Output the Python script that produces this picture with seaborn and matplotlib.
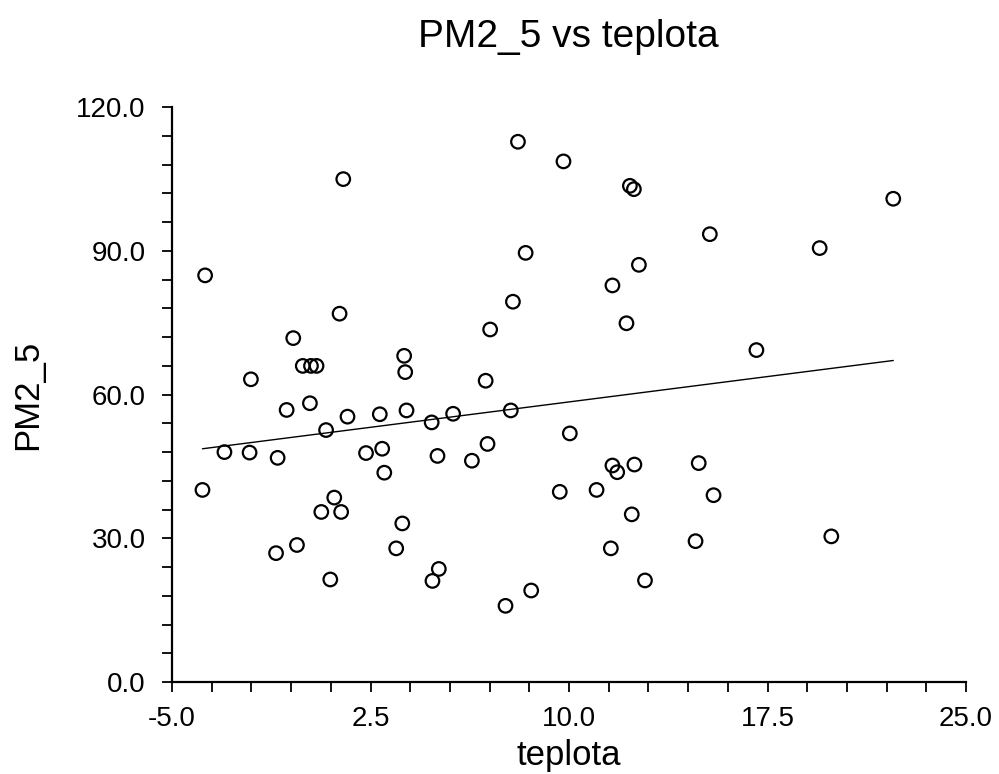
import matplotlib
matplotlib.use("Agg")
import matplotlib.pyplot as plt
from matplotlib.ticker import FixedLocator, FormatStrFormatter
import numpy as np
import seaborn as sns
import pandas as pd

teplota = [8.07, 9.79, 1.47, 12.30, 12.45, 22.25, 15.32, 19.47, 8.36, 12.64,
           -3.75, 11.64, 7.88, 1.33, 12.17, 7.02, -0.42, 17.08, 3.77, -0.06,
           0.25, 0.46, 3.81, -2.02, 6.85, -0.67, 0.21, 1.63, 2.85, 3.86,
           4.81, 5.62, 7.80, 0.82, 10.03, -3.02, -2.07, -1.01, 2.33, 2.94,
           3.02, 5.03, 6.33, 6.92, -3.85, 9.65, 1.13, 0.64, 1.39, 3.70,
           -1.07, -0.28, 3.47, 0.98, 5.08, 4.84, 7.60, 8.57, 11.64, 11.82,
           12.47, 14.90, 11.04, 15.46, 12.37, 11.58, 14.78, 19.91, 12.87]
pm25 = [112.8, 108.7, 105.0, 103.6, 102.9, 100.9, 93.5, 90.6, 89.6, 87.1,
        84.9, 82.8, 79.4, 76.9, 74.9, 73.6, 71.8, 69.3, 68.1, 66.0,
        66.0, 66.0, 64.7, 63.2, 62.9, 56.8, 58.2, 55.4, 55.9, 56.7,
        54.2, 56.0, 56.7, 52.6, 51.9, 48.0, 47.9, 46.8, 47.8, 48.7,
        43.7, 47.2, 46.2, 49.7, 40.1, 39.7, 38.5, 35.5, 35.5, 33.1,
        26.9, 28.6, 27.9, 21.4, 23.6, 21.1, 15.9, 19.1, 45.2, 43.8,
        45.4, 45.7, 40.1, 39.0, 35.0, 27.9, 29.4, 30.4, 21.2]

x_major = [-5.0, 2.5, 10.0, 17.5, 25.0]
y_major = [0.0, 30.0, 60.0, 90.0, 120.0]

title = "PM2_5 vs teplota"
xlabel = "teplota"
ylabel = "PM2_5"

df = pd.DataFrame({"teplota": teplota, "PM2_5": pm25})

sns.set_style("ticks")
plt.rcParams["font.family"] = ["Liberation Sans", "DejaVu Sans"]
plt.rcParams["text.color"] = "black"
plt.rcParams["axes.labelcolor"] = "black"
plt.rcParams["xtick.color"] = "black"
plt.rcParams["ytick.color"] = "black"

fig = plt.figure(figsize=(9.99, 7.74), dpi=100)
ax = fig.add_axes([0.1722, 0.1189, 0.7948, 0.7425])

sns.regplot(data=df, x="teplota", y="PM2_5", ax=ax, ci=None, truncate=True,
            scatter_kws=dict(s=95, facecolors="none", edgecolors="black",
                             linewidths=1.6, alpha=1),
            line_kws=dict(color="black", linewidth=1.0))

ax.set_xlim(x_major[0], x_major[-1])
ax.set_ylim(y_major[0], y_major[-1])
ax.xaxis.set_major_locator(FixedLocator(x_major))
ax.xaxis.set_minor_locator(FixedLocator(np.linspace(x_major[0], x_major[-1], 21)))
ax.yaxis.set_major_locator(FixedLocator(y_major))
ax.yaxis.set_minor_locator(FixedLocator(np.linspace(y_major[0], y_major[-1], 21)))
ax.xaxis.set_major_formatter(FormatStrFormatter("%.1f"))
ax.yaxis.set_major_formatter(FormatStrFormatter("%.1f"))

for s in ["top", "right"]:
    ax.spines[s].set_visible(False)
for s in ["left", "bottom"]:
    ax.spines[s].set_color("black")
    ax.spines[s].set_linewidth(1.6)

ax.tick_params(axis="both", which="both", direction="out", length=7,
               width=1.3, color="black")
ax.tick_params(axis="x", which="major", labelsize=20, pad=10, labelcolor="black")
ax.tick_params(axis="y", which="major", labelsize=20, pad=12, labelcolor="black")

ax.set_xlabel(xlabel, fontsize=25, labelpad=5, color="black")
ax.set_ylabel(ylabel, fontsize=25, labelpad=23, color="black")
fig.suptitle(title, fontsize=28, x=0.569, y=0.975, color="black")

fig.savefig("out.png", dpi=100, facecolor="white")
